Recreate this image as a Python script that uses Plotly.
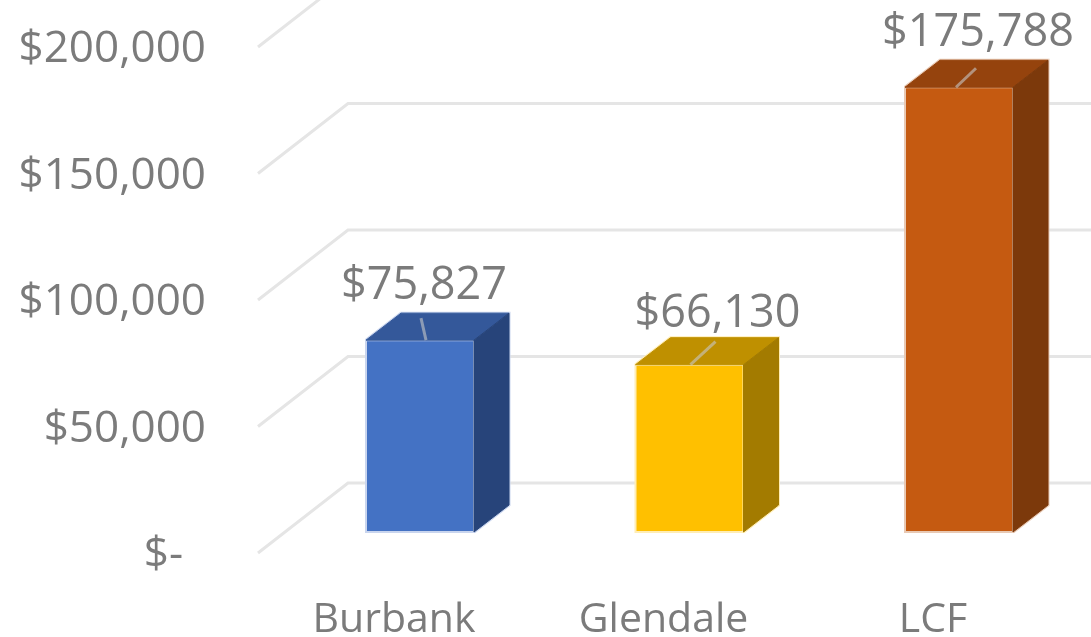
import plotly.graph_objects as go

categories = ["Burbank", "Glendale", "LCF"]
values = [75827, 66130, 175788]
front_colors = ["#4472C4", "#FFC000", "#C55A11"]
top_colors = ["#34589A", "#BF9000", "#95430D"]
side_colors = ["#27447A", "#A37B00", "#7C390B"]
edge_colors = ["#C9D5EE", "#FFEDB5", "#E8C9B4"]
axis_ticks = [0, 50000, 100000, 150000, 200000]
axis_labels = ["$-\u00a0\u00a0", "$50,000", "$100,000", "$150,000", "$200,000"]

W, H, BOTTOM = 1091, 637, 47
PX_X = 269.5          # pixels per category
PX_Y = 0.00253        # pixels per dollar
X0_PX, Y0_PX = 420.0, 532.0
BAR_W = 108 / PX_X
DX, DY = 35 / PX_X, 27 / PX_Y            # bar depth
WALL_DY = 49 / PX_Y                      # back wall floor above the front baseline
FLOOR_DY = -21 / PX_Y                    # front edge of the floor
WALL_X0, WALL_X1 = (258 - X0_PX) / PX_X, (348 - X0_PX) / PX_X
LABEL_SHIFT = -26 / PX_X
x_range = [-X0_PX / PX_X, (W - X0_PX) / PX_X]
y_range = [-(H - BOTTOM - Y0_PX) / PX_Y, Y0_PX / PX_Y]

GRID = "#E5E5E5"
TEXT = "#7B7B7B"
FONT = "Open Sans"

fig = go.Figure()

# floor / wall gridlines, below every mark
for t in axis_ticks:
    fig.add_shape(
        type="path", xref="x", yref="y", layer="below",
        path=f"M {WALL_X0} {t + FLOOR_DY} L {WALL_X1} {t + WALL_DY} L {x_range[1]} {t + WALL_DY}",
        line=dict(color=GRID, width=3))

# front faces
fig.add_trace(go.Bar(
    x=list(range(len(categories))), y=values, width=BAR_W,
    marker=dict(color=front_colors, line=dict(color=edge_colors, width=2)),
    showlegend=False, hoverinfo="skip"))

# silhouettes, then top and side faces
for i, v in enumerate(values):
    l, r = i - BAR_W / 2, i + BAR_W / 2
    fig.add_trace(go.Scatter(
        x=[l, l + DX, r + DX, r + DX, r], y=[v, v + DY, v + DY, DY, 0],
        mode="lines", line=dict(color=edge_colors[i], width=3),
        hoverinfo="skip", showlegend=False))
    fig.add_trace(go.Scatter(
        x=[l, l + DX, r + DX, r, l], y=[v, v + DY, v + DY, v, v],
        mode="lines", fill="toself", fillcolor=top_colors[i],
        line=dict(color=top_colors[i], width=1), hoverinfo="skip", showlegend=False))
    fig.add_trace(go.Scatter(
        x=[r, r + DX, r + DX, r, r], y=[0, DY, v + DY, v, 0],
        mode="lines", fill="toself", fillcolor=side_colors[i],
        line=dict(color=side_colors[i], width=1), hoverinfo="skip", showlegend=False))

# data labels and leader lines
label_dx = [4, 28, 19]
label_dy = [52, 49, 53]
lead_top = [(1, 22), (26, 23), (17, 19)]
lead_bot = [(6, 0), (1, 0), (-3, 0)]
for i, v in enumerate(values):
    (tx, ty), (bx, by) = lead_top[i], lead_bot[i]
    fig.add_trace(go.Scatter(
        x=[i + bx / PX_X, i + tx / PX_X], y=[v + by / PX_Y, v + ty / PX_Y],
        mode="lines", line=dict(color="rgba(200,200,200,0.6)", width=3),
        hoverinfo="skip", showlegend=False))
fig.add_trace(go.Scatter(
    x=[i + label_dx[i] / PX_X for i in range(3)],
    y=[v + label_dy[i] / PX_Y for i, v in enumerate(values)],
    text=[f"${v:,}" for v in values], mode="text",
    textposition="middle center",
    textfont=dict(family=FONT, size=45, color=TEXT),
    hoverinfo="skip", showlegend=False, cliponaxis=False))

# carrier for the value axis, which sits on the front edge of the floor
fig.add_trace(go.Scatter(x=[0], y=[0], yaxis="y2", mode="markers",
                         marker=dict(opacity=0), hoverinfo="skip", showlegend=False))

fig.update_layout(
    width=W, height=H, margin=dict(l=0, r=0, t=0, b=BOTTOM),
    paper_bgcolor="white", plot_bgcolor="rgba(0,0,0,0)", barmode="overlay",
    xaxis=dict(range=x_range, tickmode="array",
               tickvals=[i + LABEL_SHIFT for i in range(3)],
               ticktext=categories, showgrid=False, zeroline=False,
               showline=False, ticks="",
               tickfont=dict(family=FONT, size=41, color=TEXT), automargin=False),
    yaxis=dict(range=y_range, visible=False),
    yaxis2=dict(range=[-(H - BOTTOM - 553) / PX_Y, 553 / PX_Y], overlaying="y",
                anchor="free", position=206 / W, side="left",
                tickmode="array", tickvals=axis_ticks, ticktext=axis_labels,
                showgrid=False, zeroline=False, showline=False, ticks="",
                tickfont=dict(family=FONT, size=44, color=TEXT), automargin=False),
)
fig.write_html(
    "out.html",
    config={"displayModeBar": False},
    post_script="document.body.style.margin='0';document.body.style.overflow='hidden';"
                "document.querySelectorAll('.main-svg').forEach(s=>s.style.filter='blur(0.7px)');",
)
